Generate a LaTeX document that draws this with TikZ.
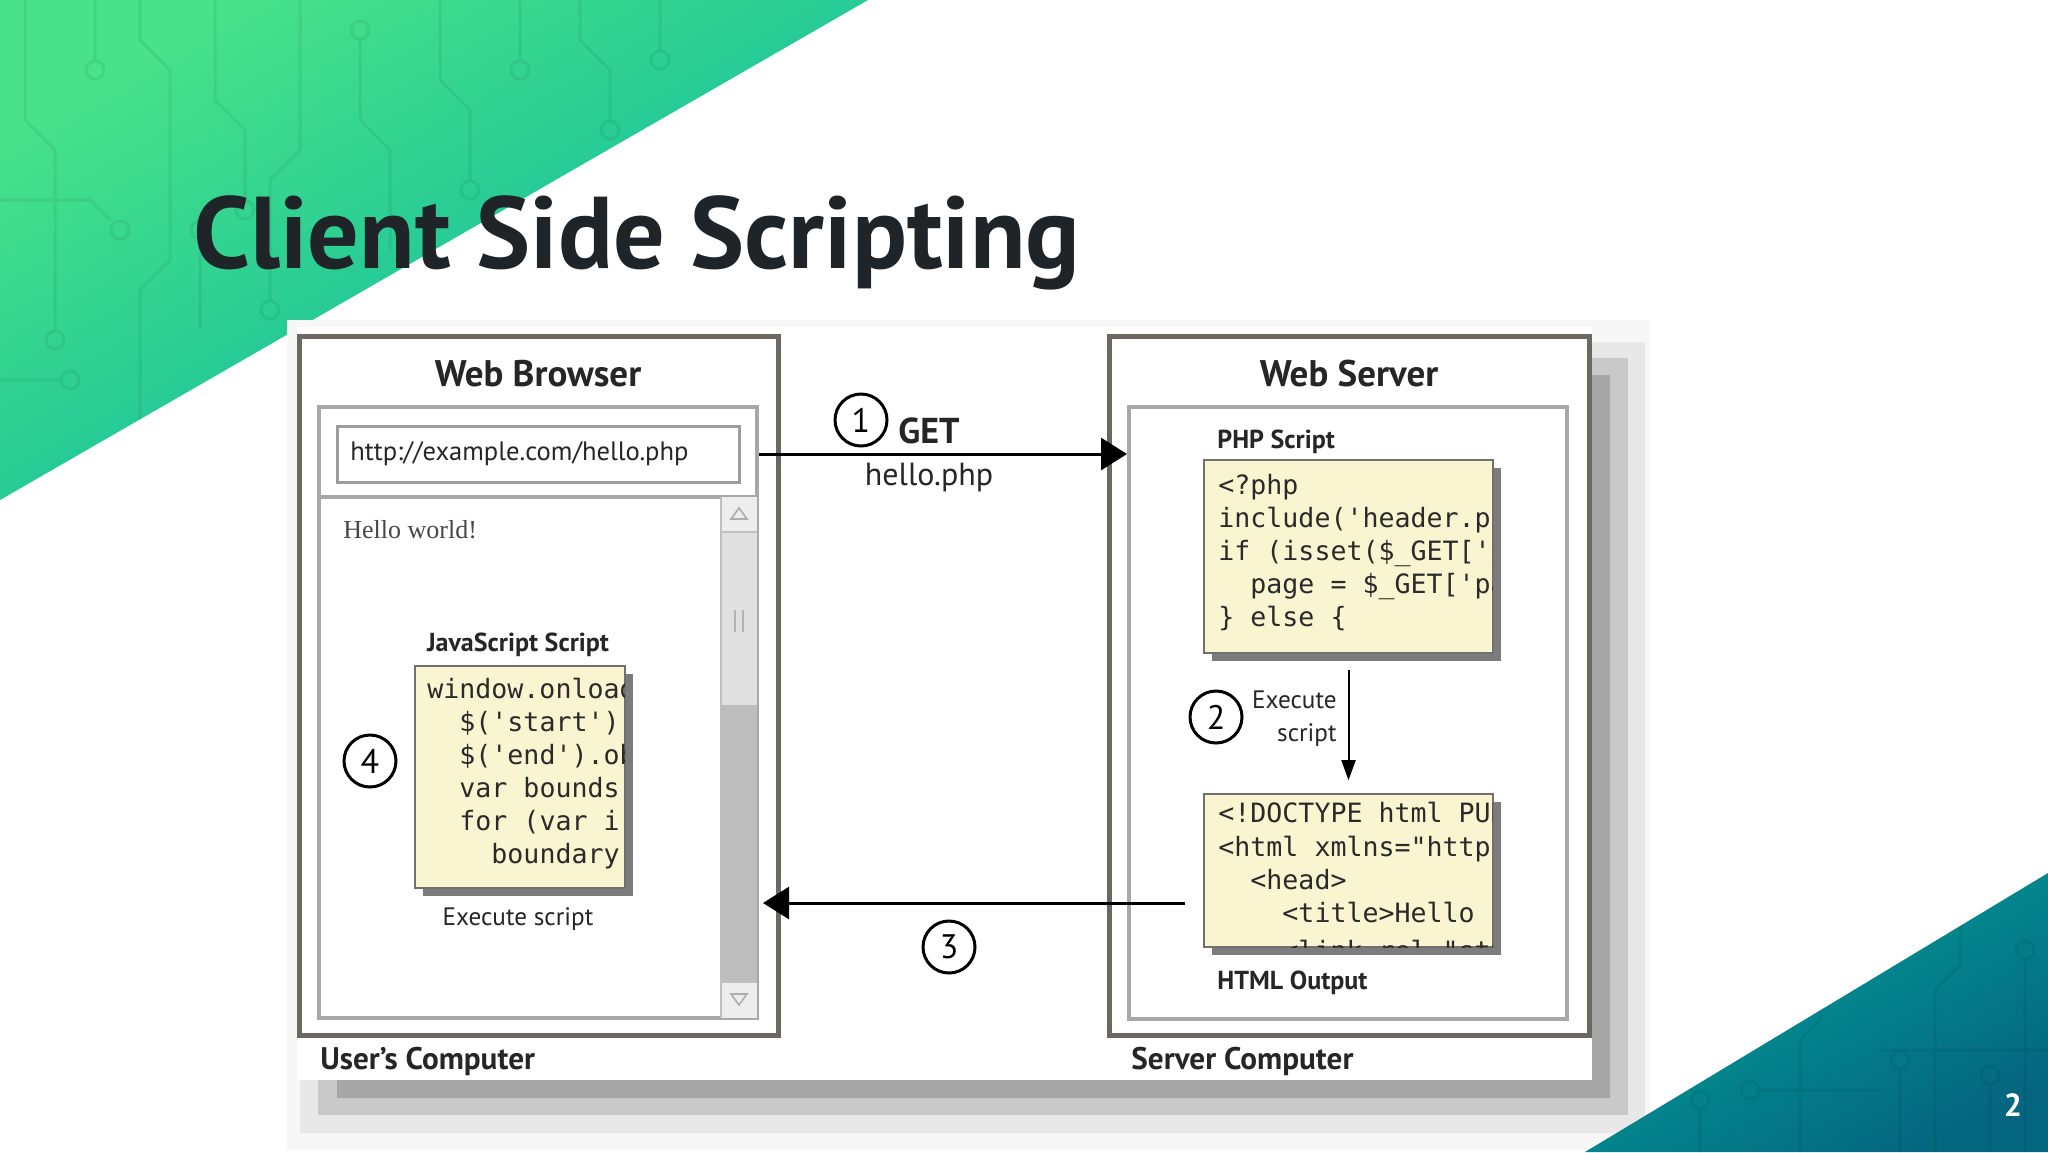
\documentclass[tikz,border=0pt]{standalone}
\usepackage{fontspec}
\setmainfont{PT Sans}
\setmonofont{DejaVu Sans Mono}
\newfontfamily\serifhello{Liberation Serif}
\usetikzlibrary{arrows.meta,positioning,fit,shadows}
\definecolor{GreenTop}{HTML}{48E28A}
\definecolor{GreenLow}{HTML}{06B4A0}
\definecolor{TealTop}{HTML}{00A39B}
\definecolor{TealLow}{HTML}{05667F}
\definecolor{TitleClr}{HTML}{1E2427}
\definecolor{FrameClr}{HTML}{6C6761}
\definecolor{WinClr}{HTML}{A8A8A8}
\definecolor{UrlClr}{HTML}{9C9C9C}
\definecolor{NoteClr}{HTML}{F8F5D0}
\definecolor{NoteLineClr}{HTML}{707070}
\definecolor{NoteShadowClr}{HTML}{7C7C7C}
\definecolor{TextClr}{HTML}{262626}
\definecolor{CodeClr}{HTML}{2A2A2A}

\tikzset{
  pcframe/.style={draw=FrameClr,line width=2.5pt,inner sep=0pt},
  browserwin/.style={draw=WinClr,line width=2pt,inner sep=0pt},
  urlbox/.style={draw=UrlClr,line width=1.5pt,fill=white,inner sep=0pt},
  notebox/.style={draw=NoteLineClr,line width=0.8pt,fill=NoteClr,inner sep=0pt,
    drop shadow={shadow xshift=4pt,shadow yshift=-4pt,fill=NoteShadowClr,opacity=1}},
  codeline/.style={anchor=base west,inner sep=0pt,text=CodeClr,font=\ttfamily\fontsize{13.3}{16}\selectfont},
  headtext/.style={inner sep=0pt,text=TextClr,font=\bfseries\fontsize{18.5}{21}\selectfont},
  smallhead/.style={inner sep=0pt,text=TextClr,font=\bfseries\fontsize{13}{15}\selectfont},
  plaintext/.style={inner sep=0pt,text=TextClr,font=\fontsize{12.6}{14}\selectfont},
  pclabel/.style={anchor=base west,inner sep=0pt,text=TextClr,font=\bfseries\fontsize{15.6}{18}\selectfont},
  numcirc/.style={circle,draw=black,line width=1.5pt,minimum size=26pt,inner sep=0pt,
    fill=white,font=\fontsize{17}{19}\selectfont},
  bigarrow/.style={line width=1.5pt,-{Triangle[length=13pt,width=16pt]}},
  circuit/.style={line width=1.5pt,draw=black,opacity=0.06},
}

\begin{document}
\begin{tikzpicture}[x=0.5pt,y=-0.5pt]
\useasboundingbox (0,0) rectangle (2048,1152);
\fill[white] (0,0) rectangle (2048,1152);

% Green corner with its circuit traces.
\shade[top color=GreenTop,bottom color=GreenLow,shading angle=30]
  (0,0) -- (868,0) -- (0,500) -- cycle;
\begin{scope}
\clip (0,0) -- (868,0) -- (0,500) -- cycle;
\draw[circuit] (25,0) -- (25,120) -- (55,150) -- (55,330) (95,0) -- (95,60)
  (140,0) -- (140,40) -- (170,70) -- (170,260) -- (140,290) -- (140,420)
  (215,0) -- (215,100) -- (245,130) -- (245,200) (300,0) -- (300,150) -- (270,180) -- (270,300)
  (360,40) -- (360,120) -- (390,150) -- (390,250) (440,0) -- (440,80) -- (470,110) -- (470,180)
  (520,0) -- (520,60) (580,0) -- (580,40) -- (610,70) -- (610,120) (660,0) -- (660,50)
  (0,200) -- (90,200) -- (110,220) (0,380) -- (60,380) (200,240) -- (200,330);
\draw[circuit] (55,340) circle (9) (95,70) circle (9) (245,210) circle (9) (270,310) circle (9)
  (360,30) circle (9) (470,190) circle (9) (520,70) circle (9) (610,130) circle (9)
  (660,60) circle (9) (120,230) circle (9) (70,380) circle (9) (200,230) circle (9);
\end{scope}

\node[anchor=base west,inner sep=0pt,text=TitleClr,font=\bfseries\fontsize{51}{60}\selectfont]
  (title) at (193,268) {Client Side Scripting};

% The figure with its stepped shadow.
\fill[black!3] (287,320) rectangle (1650,1150);
\fill[black!9] (300,342) rectangle (1645,1133);
\fill[black!21] (318,358) rectangle (1628,1115);
\fill[black!35] (337,375) rectangle (1610,1098);
\fill[white] (297,327) rectangle (1592,1080);

% Browser side.
\node[pcframe,fit={(299,336) (778,1035)}] (brframe) {};
\node[browserwin,fit={(319,407) (757,1018)}] (brwin) {};
\node[headtext] (brhead) at (538,374) {Web Browser};
\node[urlbox,fit={(337,426) (739,482)}] (url) {};
\node[anchor=west,inner sep=0pt,text=TextClr,font=\fontsize{13.3}{16}\selectfont]
  (urltext) at (350,454) {http://example.com/hello.php};
\draw[WinClr,line width=2pt] (brwin.west |- 0,497) -- (brwin.east |- 0,497);

% Scroll bar.
\fill[black!7] (721,497) rectangle (757,532);
\fill[black!12] (721,532) rectangle (757,705);
\fill[black!26] (721,705) rectangle (757,982);
\fill[black!7] (721,982) rectangle (757,1018);
\draw[black!25,line width=1pt] (721,497) -- (721,1018) (721,532) -- (757,532) (721,982) -- (757,982);
\draw[black!32,line width=0.8pt] (731,519) -- (747,519) -- (739,508) -- cycle
  (731,994) -- (747,994) -- (739,1005) -- cycle;
\draw[black!30,line width=1.2pt] (735,610) -- (735,632) (743,610) -- (743,632);

\node[anchor=base west,inner sep=0pt,text=black!72,font=\serifhello\fontsize{13}{15}\selectfont]
  (hello) at (343,538) {Hello world!};
\node[smallhead] (jshead) at (518,645) {JavaScript Script};
\node[notebox,fit={(415,666) (625,888)}] (jsbox) {};
\begin{scope}
\clip (jsbox.south west) rectangle ([xshift=-0.5pt]jsbox.north east);
\node[codeline] (js1) at (427,698) {window.onload = function() \{};
\node[codeline] (js2) at (427,731) {\phantom{xx}\$('start')};
\node[codeline] (js3) at (427,764) {\phantom{xx}\$('end').observe};
\node[codeline] (js4) at (427,797) {\phantom{xx}var bounds};
\node[codeline] (js5) at (427,830) {\phantom{xx}for (var i = 0;};
\node[codeline] (js6) at (427,863) {\phantom{xxxx}boundary};
\end{scope}
\node[plaintext] (jsrun) at (518,919) {Execute script};
\node[numcirc] (step4) at (370,761) {4};
\node[pclabel] (userpc) at (320,1069) {User's Computer};

% Server side.
\node[pcframe,fit={(1109,336) (1589,1035)}] (srvframe) {};
\node[browserwin,fit={(1129,407) (1567,1019)}] (srvwin) {};
\node[headtext] (srvhead) at (1349,374) {Web Server};
\node[smallhead,anchor=base west] (phphead) at (1217,448) {PHP Script};
\node[notebox,fit={(1204,460) (1493,653)}] (phpbox) {};
\begin{scope}
\clip (phpbox.south west) rectangle ([xshift=-0.5pt]phpbox.north east);
\node[codeline] (php1) at (1218,494) {<?php};
\node[codeline] (php2) at (1218,527) {include('header.php');};
\node[codeline] (php3) at (1218,560) {if (isset(\$\_GET['page'])) \{};
\node[codeline] (php4) at (1218,593) {\phantom{xx}page = \$\_GET['page'];};
\node[codeline] (php5) at (1218,626) {\} else \{};
\end{scope}
\node[notebox,fit={(1204,794) (1493,947)}] (htmlbox) {};
\begin{scope}
\clip (htmlbox.south west) rectangle ([xshift=-0.5pt]htmlbox.north east);
\node[codeline] (html1) at (1218,822) {<!DOCTYPE html PUBLIC};
\node[codeline] (html2) at (1218,856) {<html xmlns="http://www.w3.org/1999/xhtml">};
\node[codeline] (html3) at (1218,889) {\phantom{xx}<head>};
\node[codeline] (html4) at (1218,922) {\phantom{xxxx}<title>Hello};
\node[codeline,text depth=0pt] (html5) at (1218,960) {\phantom{xxxx}<link rel="stylesheet"};
\end{scope}
\node[smallhead,anchor=base west] (htmlhead) at (1217,989) {HTML Output};
\node[numcirc] (step2) at (1216,717) {2};
\node[plaintext,anchor=base east] (run1) at (1337,708) {Execute};
\node[plaintext,anchor=base east] (run2) at (1337,741) {script};
\draw[line width=1pt,-{Triangle[length=10pt,width=7pt]},shorten <=8pt,shorten >=6.5pt]
  (phpbox.south) -- (htmlbox.north);
\node[pclabel] (srvpc) at (1131,1069) {Server Computer};

% Request and response.
\draw[bigarrow] (url.east -| brwin.east) -- (url.east -| srvwin.west);
\node[numcirc] (step1) at (861,420) {1};
\node[anchor=base west,inner sep=0pt,text=TextClr,font=\bfseries\fontsize{18}{20}\selectfont]
  (get) at (898,443) {GET};
\node[inner sep=0pt,text=TextClr,font=\fontsize{16}{18}\selectfont] (getfile) at (929,477) {hello.php};
\coordinate (reply) at (1185,903);
\draw[bigarrow,shorten >=2pt] (reply) -- (reply -| brwin.east);
\node[numcirc] (step3) at (949,947) {3};

% Teal corner with its circuit traces.
\shade[top color=TealTop,bottom color=TealLow,shading angle=30]
  (2048,873) -- (1585,1152) -- (2048,1152) -- cycle;
\begin{scope}
\clip (2048,873) -- (1585,1152) -- (2048,1152) -- cycle;
\draw[circuit] (1800,1152) -- (1800,1040) -- (1820,1020) -- (1820,960)
  (1900,1152) -- (1900,1070) (1935,1152) -- (1935,990) -- (1960,965) -- (1960,900)
  (1990,1152) -- (1990,1085) (2025,1152) -- (2025,960) (1700,1152) -- (1700,1110)
  (1880,1050) -- (2048,1050) (1760,1090) -- (1880,1090);
\draw[circuit] (1820,950) circle (9) (1900,1060) circle (9) (1960,890) circle (9)
  (1990,1075) circle (9) (2025,950) circle (9) (1700,1100) circle (9) (1750,1090) circle (9);
\end{scope}
\node[anchor=center,inner sep=0pt,text=white,font=\bfseries\fontsize{16}{18}\selectfont]
  (pagenum) at (2013,1105) {2};

\end{tikzpicture}
\end{document}
